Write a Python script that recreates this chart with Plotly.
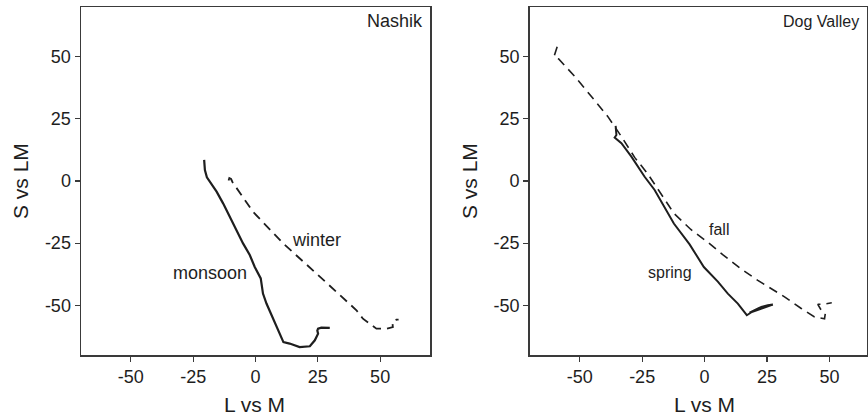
import plotly.graph_objects as go

# ---- data ----
monsoon_x = [-20.6, -20.3, -19.5, -18.3, -15.6, -13.0, -10.3, -7.6, -5.0, -2.3, -0.3, 2.1, 2.6, 3.0, 4.4,
             6.4, 8.4, 10.4, 11.2, 13.7, 17.7, 21.8, 23.8, 25.1, 24.8, 25.1, 26.4, 29.8]
monsoon_y = [8.5, 4.4, 1.5, -0.3, -4.3, -9.0, -14.4, -19.8, -25.1, -29.8, -34.6, -39.2, -42.0, -45.3, -49.3,
             -54.0, -58.7, -63.4, -64.8, -65.4, -66.8, -66.5, -64.1, -61.4, -60.2, -59.4, -59.0, -59.1]

winter_x = [-10.8, -10.5, -9.8, -9.2, -1.0, 11.1, 24.4, 40.5, 43.1, 45.8, 48.5, 52.5, 55.1, 54.9, 56.5, 57.4]
winter_y = [0.2, 1.2, 0.8, -0.5, -12.4, -25.1, -37.2, -52.0, -55.4, -57.4, -59.4, -59.4, -58.8, -56.7, -55.8, -55.8]

fall_x = [-59.0, -59.3, -60.3, -58.4, -52.0, -45.3, -38.7, -33.3, -28.0, -22.9, -17.5, -12.3, -5.5, 1.1,
          7.5, 14.4, 21.3, 32.0, 38.7, 44.0, 48.0, 48.3, 46.7, 45.3, 47.3, 50.9]
fall_y = [54.0, 53.1, 49.9, 49.1, 42.1, 34.0, 25.9, 17.9, 9.5, 3.1, -5.0, -13.0, -19.5, -24.5,
          -29.8, -35.2, -40.0, -46.6, -51.3, -54.7, -55.4, -53.4, -52.0, -49.6, -49.6, -49.0]

spring_x = [-35.6, -35.3, -36.0, -33.3, -29.3, -24.0, -20.0, -12.3, -6.0, -0.3, 5.3, 9.3, 13.3, 16.0,
            16.9, 20.0, 22.7, 25.3, 27.3, 22.0, 18.0, 22.0, 27.3]
spring_y = [22.2, 18.5, 17.5, 15.2, 9.8, 1.7, -3.6, -17.1, -25.5, -34.6, -40.5, -45.3, -49.3, -52.7,
            -54.0, -52.0, -50.7, -50.0, -49.7, -51.6, -53.0, -51.0, -49.8]

tick_vals = [-50, -25, 0, 25, 50]
tick_text = ["-50", "-25", "0", "25", "50"]

FONT = "Liberation Sans, Arial, sans-serif"
INK = "#1e1e1e"
W, H = 868, 418

fig = go.Figure()
fig.add_trace(go.Scatter(x=monsoon_x, y=monsoon_y, mode="lines", xaxis="x", yaxis="y",
                         line=dict(color=INK, width=2.2), showlegend=False))
fig.add_trace(go.Scatter(x=winter_x, y=winter_y, mode="lines", xaxis="x", yaxis="y",
                         line=dict(color=INK, width=1.8, dash="9px,6px"), showlegend=False))
fig.add_trace(go.Scatter(x=fall_x, y=fall_y, mode="lines", xaxis="x2", yaxis="y2",
                         line=dict(color=INK, width=1.6, dash="9px,6px"), showlegend=False))
fig.add_trace(go.Scatter(x=spring_x, y=spring_y, mode="lines", xaxis="x2", yaxis="y2",
                         line=dict(color=INK, width=2.0), showlegend=False))

def px_x(p):
    return p / W

def px_y(p):
    return (H - p) / H

axis_common = dict(showgrid=False, zeroline=False, showline=True, mirror=True,
                   linecolor="#3a3a3a", linewidth=1.5, ticks="outside", ticklen=5,
                   tickwidth=1.2, tickcolor="#3a3a3a", tickvals=tick_vals, ticktext=tick_text,
                   tickfont=dict(family=FONT, size=18, color=INK), fixedrange=True)

ydom = [px_y(355), px_y(7)]
fig.update_layout(
    width=W, height=H,
    margin=dict(l=0, r=0, t=0, b=0),
    paper_bgcolor="white", plot_bgcolor="white",
    xaxis=dict(domain=[px_x(81), px_x(430)], range=[-70, 70], anchor="y", **axis_common),
    yaxis=dict(domain=ydom, range=[-70, 70], anchor="x", **axis_common),
    xaxis2=dict(domain=[px_x(529.7), px_x(867)], range=[-70, 65], anchor="y2", **axis_common),
    yaxis2=dict(domain=ydom, range=[-70, 70], anchor="x2", **axis_common),
)

ann = []
def label(text, x, y, xref, yref, size, xanchor="center", angle=0):
    ann.append(dict(text=text, x=x, y=y, xref=xref, yref=yref, showarrow=False,
                    xanchor=xanchor, yanchor="middle", textangle=angle,
                    font=dict(family=FONT, size=size, color=INK)))

label("Nashik", 67.8, 64.5, "x", "y", 18, xanchor="right")
label("winter", 24.4, -23.8, "x", "y", 18)
label("monsoon", -18.3, -37.1, "x", "y", 18)
label("Dog Valley", 62.7, 64.3, "x2", "y2", 16, xanchor="right")
label("fall", 5.6, -19.4, "x2", "y2", 16)
label("spring", -13.9, -37.0, "x2", "y2", 16)

label("L vs M", px_x(255), px_y(404), "paper", "paper", 21)
label("L vs M", px_x(704), px_y(404), "paper", "paper", 21)
label("S vs LM", px_x(20), px_y(181), "paper", "paper", 21, angle=-90)
label("S vs LM", px_x(469), px_y(181), "paper", "paper", 21, angle=-90)

fig.update_layout(annotations=ann)
fig.write_html("out.html",
               config={"displayModeBar": False, "staticPlot": True},
               post_script="document.body.style.margin='0';document.body.style.overflow='hidden';")
